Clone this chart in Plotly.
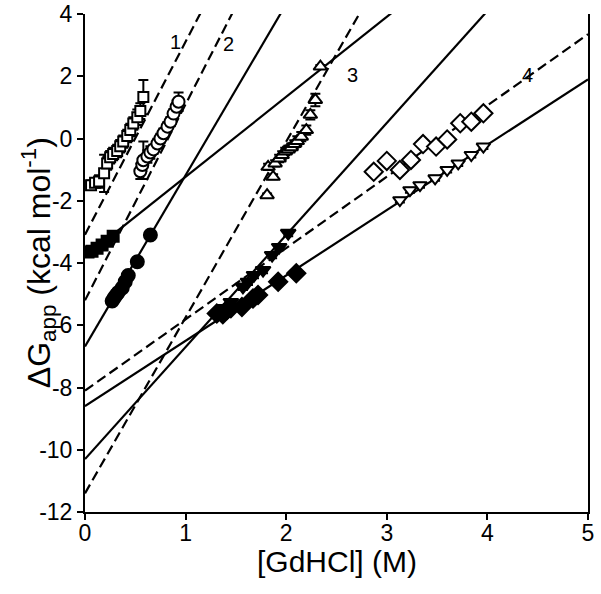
import plotly.graph_objects as go

# ---- data ----
sq_open_x = [0.06, 0.10, 0.14, 0.19, 0.22, 0.25, 0.28, 0.32, 0.35, 0.38, 0.42, 0.45, 0.48, 0.52, 0.55, 0.58]
sq_open_y = [-1.50, -1.42, -1.38, -1.12, -0.80, -0.60, -0.50, -0.40, -0.25, -0.10, 0.08, 0.27, 0.48, 0.68, 0.88, 1.33]
sq_open_e = [0.15, 0.15, 0.20, 0.60, 0.20, 0.20, 0.20, 0.20, 0.20, 0.20, 0.20, 0.20, 0.20, 0.25, 0.25, 0.55]

ci_open_x = [0.55, 0.57, 0.58, 0.62, 0.65, 0.68, 0.72, 0.75, 0.78, 0.82, 0.85, 0.88, 0.91, 0.93]
ci_open_y = [-1.05, -0.85, -0.70, -0.58, -0.45, -0.35, -0.16, 0.00, 0.17, 0.38, 0.54, 0.80, 1.02, 1.18]
ci_open_e = [0.25, 0.20, 0.60, 0.20, 0.20, 0.15, 0.15, 0.15, 0.15, 0.15, 0.15, 0.15, 0.20, 0.30]

sq_fill_x = [0.03, 0.07, 0.12, 0.17, 0.22, 0.28]
sq_fill_y = [-3.65, -3.62, -3.53, -3.42, -3.30, -3.14]
sq_fill_e = [0.08, 0.08, 0.08, 0.08, 0.08, 0.08]

ci_fill_x = [0.27, 0.29, 0.31, 0.33, 0.37, 0.40, 0.43, 0.52, 0.65]
ci_fill_y = [-5.22, -5.12, -5.03, -4.95, -4.80, -4.60, -4.40, -3.96, -3.10]
ci_fill_e = [0.10, 0.10, 0.10, 0.10, 0.10, 0.10, 0.10, 0.10, 0.10]

tri_open_x = [1.81, 1.87, 1.82, 1.89, 1.93, 1.96, 1.99, 2.02, 2.05, 2.08, 2.11, 2.15, 2.20, 2.24, 2.29, 2.34]
tri_open_y = [-1.82, -1.23, -0.91, -0.80, -0.64, -0.53, -0.42, -0.35, -0.28, -0.18, -0.08, 0.06, 0.27, 0.76, 1.24, 2.31]
tri_open_e = [0.05, 0.08, 0.10, 0.10, 0.12, 0.12, 0.12, 0.12, 0.12, 0.12, 0.15, 0.15, 0.15, 0.15, 0.20, 0.05]

tdn_fill_x = [1.34, 1.39, 1.45, 1.57, 1.62, 1.68, 1.77, 1.86, 1.93, 2.02]
tdn_fill_y = [-5.58, -5.45, -5.26, -4.77, -4.61, -4.39, -4.23, -3.75, -3.49, -3.04]
tdn_fill_e = [0.10, 0.10, 0.10, 0.10, 0.10, 0.10, 0.10, 0.10, 0.10, 0.10]

dia_fill_x = [1.31, 1.37, 1.41, 1.45, 1.56, 1.67, 1.72, 1.92, 2.10]
dia_fill_y = [-5.62, -5.65, -5.51, -5.45, -5.41, -5.14, -5.03, -4.60, -4.33]
dia_fill_e = [0.10, 0.10, 0.10, 0.10, 0.10, 0.10, 0.10, 0.10, 0.10]

dia_open_x = [2.87, 3.00, 3.13, 3.24, 3.36, 3.49, 3.60, 3.73, 3.84, 3.96]
dia_open_y = [-1.07, -0.72, -1.01, -0.69, -0.18, -0.26, -0.03, 0.49, 0.54, 0.81]
dia_open_e = [0.12, 0.12, 0.12, 0.12, 0.12, 0.12, 0.12, 0.12, 0.12, 0.12]

tdn_open_x = [3.13, 3.23, 3.33, 3.48, 3.60, 3.71, 3.84, 3.96]
tdn_open_y = [-1.98, -1.66, -1.50, -1.28, -1.01, -0.80, -0.53, -0.26]
tdn_open_e = [0.08, 0.08, 0.08, 0.08, 0.08, 0.08, 0.08, 0.08]

# fitted lines: (intercept, slope)
dashed_intercepts = [-3.09, -5.20, -11.40, -8.10]
dashed_slopes = [6.20, 6.30, 5.65, 2.29]
solid_intercepts = [-3.80, -6.68, -10.30, -8.60]
solid_slopes = [2.57, 5.50, 3.60, 2.10]

line_labels = ["1", "2", "3", "4"]
label_x = [0.90, 1.43, 2.66, 4.40]
label_y = [3.10, 3.05, 2.05, 2.05]

x_ticks = [0, 1, 2, 3, 4, 5]
y_ticks = [-12, -10, -8, -6, -4, -2, 0, 2, 4]
x_ticktext = [str(v) for v in x_ticks]
y_ticktext = [str(v) for v in y_ticks]

x_title = "[GdHCl] (M)"
y_title = "ΔG<sub>app</sub> (kcal mol<sup>-1</sup>)"

fig = go.Figure()

line_x = [0, 5]
for b, m in zip(dashed_intercepts, dashed_slopes):
    fig.add_trace(go.Scatter(x=line_x, y=[b + m * xx for xx in line_x], mode="lines",
                             line=dict(color="black", width=2.2, dash="10px,5px"), showlegend=False))
for b, m in zip(solid_intercepts, solid_slopes):
    fig.add_trace(go.Scatter(x=line_x, y=[b + m * xx for xx in line_x], mode="lines",
                             line=dict(color="black", width=2.2), showlegend=False))

def pts(x, y, e, symbol, filled, size):
    fig.add_trace(go.Scatter(
        x=x, y=y, mode="markers",
        error_y=dict(type="data", array=e, visible=True, color="black", thickness=2, width=5),
        marker=dict(symbol=symbol, size=size,
                    color="black" if filled else "white",
                    line=dict(color="black", width=2)),
        showlegend=False))

pts(sq_open_x, sq_open_y, sq_open_e, "square", False, 10)
pts(ci_open_x, ci_open_y, ci_open_e, "circle", False, 12)
pts(sq_fill_x, sq_fill_y, sq_fill_e, "square", True, 11)
pts(ci_fill_x, ci_fill_y, ci_fill_e, "circle", True, 13)
pts(tri_open_x, tri_open_y, tri_open_e, "triangle-up", False, 12)
pts(tdn_fill_x, tdn_fill_y, tdn_fill_e, "triangle-down", True, 13)
pts(dia_fill_x, dia_fill_y, dia_fill_e, "diamond", True, 14)
pts(dia_open_x, dia_open_y, dia_open_e, "diamond", False, 14)
pts(tdn_open_x, tdn_open_y, tdn_open_e, "triangle-down", False, 12)

for t, lx, ly in zip(line_labels, label_x, label_y):
    fig.add_annotation(x=lx, y=ly, text=t, showarrow=False,
                       font=dict(family="Liberation Sans, Arial", size=20, color="black"))

# axis titles placed as paper-anchored text
fig.add_annotation(xref="paper", yref="paper", x=0.5, y=-0.10, yanchor="middle",
                   text=x_title, showarrow=False, font=dict(size=30))
fig.add_annotation(xref="paper", yref="paper", x=-0.093, y=0.5, xanchor="center",
                   text=y_title, textangle=-90, showarrow=False, font=dict(size=32))

fig.update_layout(
    width=601, height=594,
    margin=dict(l=85, r=13, t=14, b=82),
    paper_bgcolor="white", plot_bgcolor="white",
    font=dict(family="Liberation Sans, Arial", size=23, color="black"),
)
fig.update_xaxes(range=[0, 5], tickvals=x_ticks, ticktext=x_ticktext,
                 showgrid=False, zeroline=False, automargin=False,
                 showline=True, linecolor="black", linewidth=2, ticklabeloverflow="allow",
                 ticks="outside", ticklen=6, tickwidth=2, tickcolor="black", ticklabelstandoff=-7)
fig.update_yaxes(range=[-12, 4], tickvals=y_ticks, ticktext=y_ticktext,
                 showgrid=False, zeroline=False, automargin=False,
                 showline=True, mirror=True, linecolor="black", linewidth=2, ticklabeloverflow="allow",
                 ticks="outside", ticklen=6, tickwidth=2, tickcolor="black")

fig.write_html("out.html", config={"displayModeBar": False},
               post_script="document.body.style.margin='0px';")
